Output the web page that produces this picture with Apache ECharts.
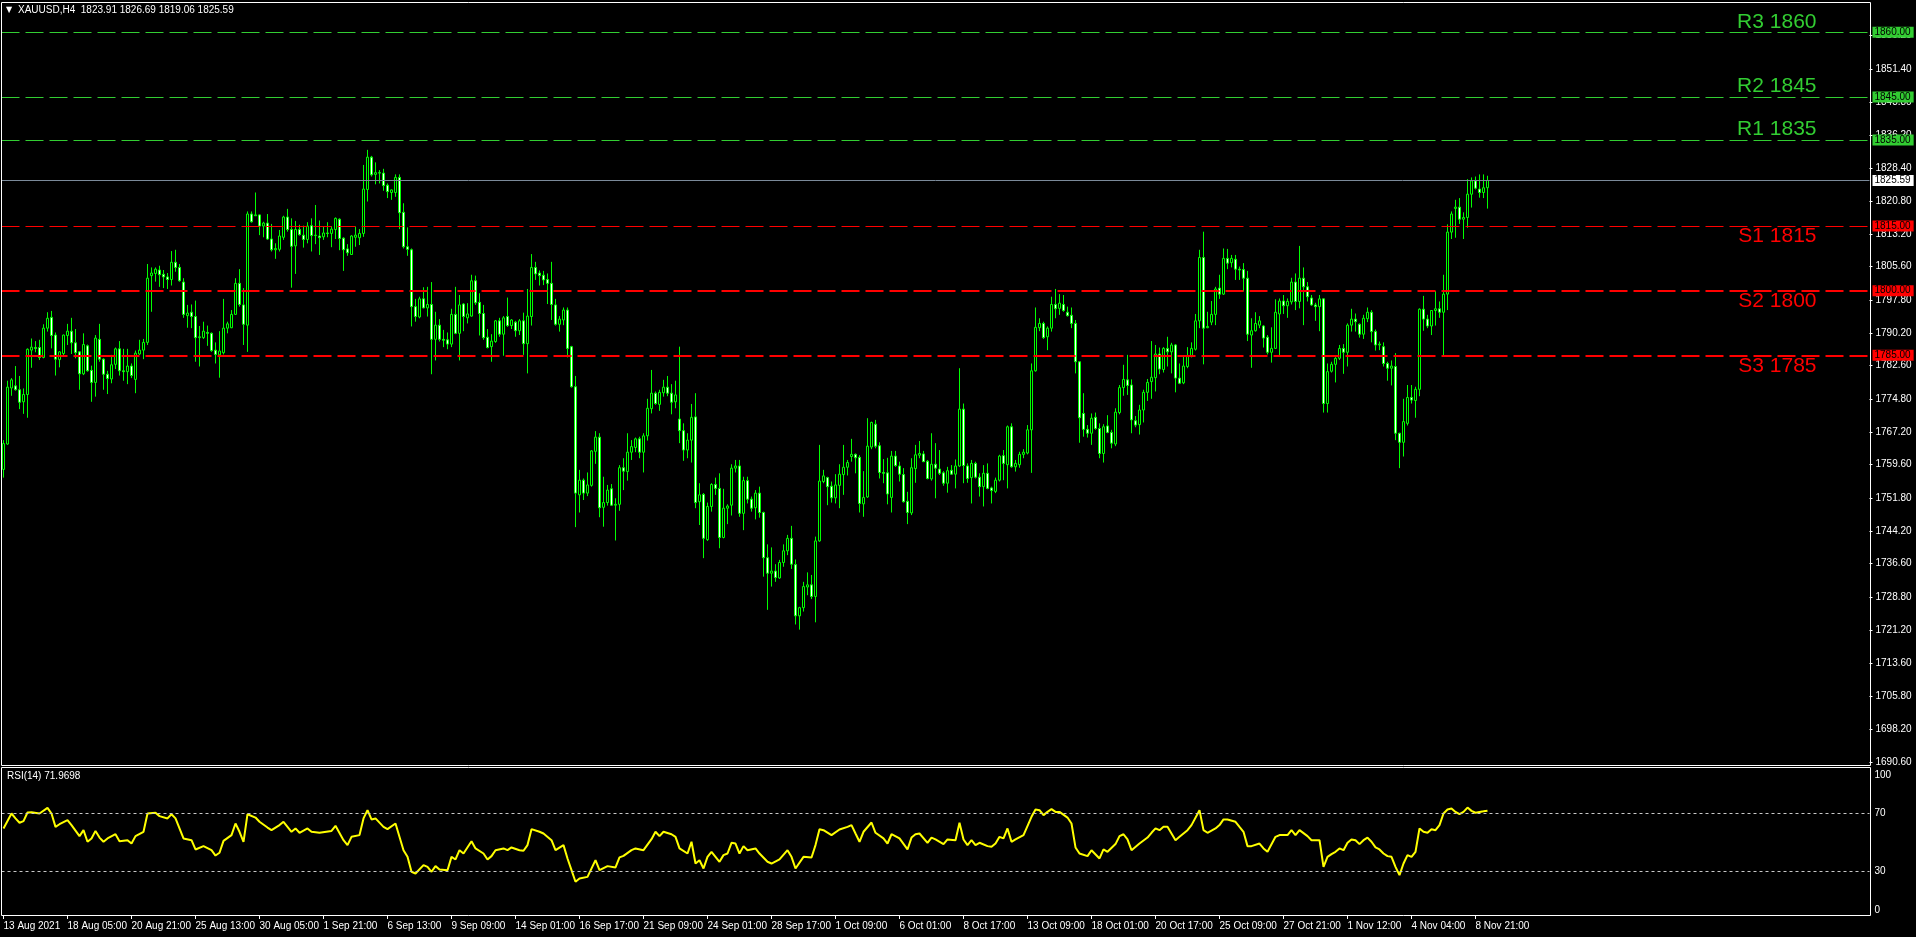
<!DOCTYPE html>
<html><head><meta charset="utf-8">
<script src="https://cdn.jsdelivr.net/npm/echarts@6/dist/echarts.min.js"></script>
<style>html,body{margin:0;padding:0;background:#000;overflow:hidden}#c{width:1916px;height:937px}</style>
</head><body><div id="c"></div>
<script>
// ---------------- DATA ----------------
const symbolName = 'XAUUSD,H4';
const opens = [
1758.5,1764.4,1777.4,1777.9,1777.0,1774.2,1775.9,1786.2,1786.8,1786.8,
1784.5,1791.3,1793.8,1789.7,1784.0,1785.4,1789.6,1790.6,1787.9,1785.8,
1780.7,1787.2,1781.5,1778.7,1788.7,1784.1,1780.6,1779.5,1782.9,1786.5,
1781.4,1781.2,1782.5,1779.4,1785.3,1786.2,1788.0,1803.5,1804.0,1804.8,
1803.8,1803.2,1802.6,1806.6,1805.4,1802.0,1794.2,1795.0,1794.0,1789.1,
1789.1,1790.3,1790.1,1786.2,1785.1,1785.6,1791.3,1791.4,1794.5,1801.7,
1796.7,1792.0,1817.8,1817.4,1817.6,1815.0,1815.7,1812.0,1809.5,1809.6,
1812.4,1817.1,1814.2,1810.4,1814.2,1812.9,1811.9,1815.1,1812.8,1812.7,
1812.5,1813.4,1813.3,1814.2,1816.6,1812.2,1809.7,1808.4,1812.4,1812.3,
1813.3,1823.5,1831.0,1827.0,1827.4,1827.3,1824.5,1822.8,1822.8,1826.3,
1818.2,1810.2,1809.5,1796.3,1793.9,1798.1,1796.0,1796.8,1788.7,1792.0,
1788.7,1788.6,1787.6,1794.5,1790.1,1796.9,1793.7,1794.1,1802.3,1797.3,
1794.7,1789.2,1787.0,1788.2,1793.0,1789.9,1794.0,1791.9,1792.7,1790.7,
1793.0,1787.7,1794.0,1805.4,1804.1,1803.6,1802.6,1801.7,1796.7,1792.2,
1793.2,1795.5,1787.0,1777.7,1752.6,1756.0,1753.0,1754.8,1762.7,1766.0,
1749.7,1750.8,1754.0,1750.2,1750.4,1758.9,1758.0,1762.5,1763.6,1765.6,
1762.5,1766.3,1772.6,1776.2,1773.6,1776.3,1777.6,1776.2,1774.2,1770.2,
1767.5,1763.0,1765.3,1770.7,1751.0,1752.7,1742.2,1749.9,1755.0,1754.1,
1742.7,1749.5,1750.2,1758.8,1759.3,1748.3,1755.9,1751.6,1749.6,1753.0,
1748.5,1738.0,1734.4,1734.9,1733.3,1736.9,1739.6,1742.5,1736.4,1724.5,
1726.4,1731.2,1731.7,1729.0,1741.9,1755.7,1756.6,1754.6,1751.9,1754.8,
1757.3,1759.0,1761.5,1762.0,1761.3,1750.5,1752.1,1763.7,1769.0,1764.0,
1757.8,1757.7,1752.0,1761.6,1759.3,1757.3,1751.1,1748.4,1758.7,1761.8,
1762.1,1760.4,1756.3,1759.7,1758.6,1757.7,1755.3,1758.3,1757.4,1759.3,
1772.5,1759.3,1756.6,1759.9,1756.7,1754.5,1757.6,1754.2,1753.4,1756.0,
1761.7,1759.6,1768.4,1759.1,1759.6,1762.0,1762.3,1767.7,1781.4,1791.4,
1792.4,1789.3,1791.3,1796.8,1795.9,1796.8,1795.0,1794.3,1792.4,1783.5,
1771.5,1767.8,1766.9,1770.6,1768.0,1762.2,1768.6,1767.1,1764.4,1771.7,
1777.5,1779.3,1778.1,1769.8,1768.9,1772.3,1776.4,1778.9,1779.8,1785.3,
1781.7,1786.6,1785.8,1787.4,1779.7,1778.6,1782.4,1784.8,1786.4,1793.0,
1807.7,1791.4,1792.7,1794.5,1800.6,1799.2,1807.5,1806.5,1807.3,1805.0,
1804.9,1802.9,1789.7,1790.7,1792.0,1791.8,1789.2,1785.7,1786.6,1794.6,
1797.6,1796.5,1797.4,1802.0,1797.5,1802.9,1800.9,1798.3,1796.7,1796.3,
1798.1,1773.8,1781.3,1782.9,1784.3,1786.6,1785.7,1792.0,1793.4,1792.2,
1789.9,1793.5,1795.0,1790.5,1787.4,1787.0,1783.1,1782.0,1782.4,1766.9,
1764.8,1769.2,1775.2,1774.5,1777.1,1795.7,1793.4,1791.8,1795.4,1795.8,
1795.0,1799.2,1813.6,1819.1,1819.4,1816.6,1817.0,1822.4,1825.5,1823.6,
1822.8,1823.91];
const highs = [
1765.3,1779.1,1779.7,1782.5,1780.2,1777.3,1786.6,1788.9,1788.3,1788.6,
1792.2,1795.0,1795.3,1790.3,1786.0,1789.8,1792.3,1793.7,1791.1,1786.0,
1790.1,1787.5,1782.6,1789.7,1792.3,1784.3,1781.4,1785.1,1786.8,1788.3,
1786.5,1786.5,1783.1,1786.1,1788.6,1788.8,1806.2,1805.4,1805.4,1805.8,
1804.8,1804.1,1809.2,1809.5,1806.2,1802.9,1796.7,1796.8,1797.7,1791.8,
1792.8,1791.9,1790.3,1788.0,1790.6,1798.1,1792.8,1795.5,1802.9,1805.0,
1800.6,1818.4,1818.4,1822.8,1817.7,1816.0,1817.8,1815.5,1811.0,1814.1,
1817.4,1819.0,1816.8,1816.2,1815.3,1815.1,1815.9,1816.8,1819.9,1816.3,
1815.0,1815.9,1815.0,1817.0,1816.8,1812.4,1810.8,1812.9,1814.9,1814.3,
1829.2,1832.7,1831.3,1829.8,1828.0,1828.3,1824.9,1823.5,1827.0,1827.0,
1820.3,1814.7,1809.8,1798.1,1798.6,1800.8,1800.9,1802.0,1795.1,1793.4,
1790.9,1790.3,1795.8,1800.9,1799.0,1797.1,1797.1,1803.7,1803.5,1799.4,
1796.7,1791.1,1789.9,1793.2,1793.7,1794.1,1798.4,1793.4,1793.0,1793.4,
1794.9,1800.4,1808.5,1806.7,1804.7,1804.6,1804.0,1806.7,1798.1,1794.1,
1796.1,1796.1,1787.2,1780.2,1758.4,1756.4,1757.8,1763.0,1767.4,1766.9,
1756.8,1754.9,1755.1,1751.8,1759.5,1761.1,1766.9,1765.3,1765.9,1766.1,
1766.9,1774.9,1781.6,1776.6,1777.0,1779.3,1780.2,1778.3,1779.1,1787.0,
1769.2,1766.9,1773.7,1776.2,1755.3,1753.0,1750.8,1755.3,1756.6,1757.6,
1754.0,1750.4,1759.7,1760.7,1760.7,1756.8,1756.8,1752.2,1753.7,1754.5,
1748.7,1741.1,1740.4,1736.5,1737.5,1741.1,1743.3,1745.4,1737.6,1726.6,
1732.4,1734.6,1734.0,1742.9,1764.2,1758.4,1756.8,1755.7,1757.4,1759.7,
1764.2,1760.7,1765.6,1762.2,1761.8,1758.1,1770.4,1769.6,1770.0,1764.8,
1760.9,1761.2,1762.8,1762.8,1760.3,1758.8,1753.3,1761.1,1764.2,1765.1,
1762.8,1760.7,1766.9,1764.6,1763.0,1758.1,1759.1,1759.5,1760.8,1782.0,
1773.8,1759.9,1760.7,1760.3,1757.6,1759.5,1759.9,1754.5,1756.6,1761.9,
1763.0,1768.7,1769.2,1760.7,1762.6,1763.2,1768.8,1783.1,1796.1,1793.6,
1792.8,1791.7,1798.6,1800.4,1799.2,1799.0,1796.3,1796.1,1793.2,1783.5,
1776.2,1768.8,1771.5,1771.7,1769.2,1769.0,1771.1,1767.7,1772.7,1778.1,
1782.8,1785.1,1779.4,1770.9,1773.5,1777.0,1779.5,1788.3,1787.4,1786.8,
1786.9,1789.3,1787.9,1787.6,1783.1,1784.7,1786.9,1788.0,1794.6,1809.5,
1813.7,1795.1,1797.6,1800.9,1803.7,1809.8,1809.7,1808.3,1808.3,1805.6,
1806.4,1804.6,1793.6,1795.0,1794.1,1792.0,1789.7,1791.5,1798.0,1798.2,
1799.0,1798.2,1803.0,1804.0,1810.4,1805.4,1802.0,1799.0,1797.2,1799.0,
1798.2,1783.1,1783.5,1784.7,1787.4,1787.6,1792.4,1795.8,1794.7,1792.4,
1794.4,1796.1,1795.5,1791.0,1788.2,1788.0,1783.5,1783.8,1785.5,1767.0,
1774.9,1778.1,1778.1,1777.7,1795.9,1798.8,1794.4,1795.5,1799.9,1797.5,
1803.7,1815.4,1818.4,1821.1,1821.5,1818.2,1825.9,1826.3,1826.5,1827.0,
1827.0,1826.69];
const lows = [
1756.6,1764.2,1775.6,1776.8,1772.5,1771.4,1770.5,1782.1,1785.7,1783.9,
1784.3,1790.5,1786.6,1780.3,1782.2,1784.7,1787.4,1785.3,1784.3,1777.0,
1780.4,1781.2,1774.2,1775.4,1783.5,1777.0,1776.0,1778.5,1781.8,1780.3,
1779.1,1778.3,1779.7,1776.2,1785.1,1784.1,1787.4,1795.1,1802.1,1800.9,
1800.6,1800.4,1801.2,1804.4,1802.1,1793.7,1791.4,1791.3,1783.5,1782.4,
1788.8,1787.2,1785.8,1783.1,1779.8,1785.2,1790.1,1791.3,1794.4,1796.3,
1787.4,1785.8,1815.8,1817.4,1812.9,1812.4,1811.8,1809.1,1807.4,1809.1,
1811.8,1813.7,1800.7,1803.9,1812.8,1810.0,1811.0,1809.1,1810.8,1808.3,
1811.8,1812.4,1810.1,1812.0,1809.4,1804.6,1808.1,1808.3,1810.2,1810.6,
1812.5,1820.7,1826.5,1824.7,1824.9,1823.2,1821.5,1821.1,1821.8,1814.3,
1809.8,1808.1,1791.7,1792.8,1793.6,1795.9,1794.0,1780.6,1783.8,1788.2,
1786.9,1786.4,1786.9,1789.9,1783.8,1790.6,1792.4,1794.0,1796.7,1789.6,
1788.6,1786.6,1783.5,1787.9,1789.3,1784.9,1791.6,1791.1,1789.3,1789.7,
1785.1,1780.8,1791.9,1802.5,1801.2,1801.3,1796.9,1793.2,1791.9,1790.5,
1792.0,1784.5,1777.5,1745.1,1748.5,1751.4,1752.3,1754.5,1759.8,1747.4,
1745.2,1750.1,1750.0,1742.0,1748.9,1753.7,1755.9,1760.7,1762.5,1761.1,
1757.8,1765.2,1771.5,1773.5,1772.1,1775.4,1775.5,1771.3,1772.7,1764.6,
1760.5,1761.1,1760.1,1749.5,1745.6,1737.9,1741.9,1748.7,1752.6,1740.2,
1742.5,1745.8,1747.8,1757.8,1747.5,1744.4,1750.6,1748.7,1746.9,1747.3,
1733.6,1725.9,1731.3,1732.4,1733.1,1735.9,1738.6,1735.4,1722.5,1721.3,
1725.5,1729.3,1728.4,1723.0,1741.7,1755.3,1750.2,1750.8,1750.6,1749.5,
1752.6,1757.1,1760.3,1757.6,1748.5,1747.5,1751.9,1763.2,1763.4,1756.4,
1755.3,1750.4,1748.5,1759.1,1755.7,1750.8,1745.8,1747.9,1755.4,1761.1,
1760.2,1756.2,1755.9,1751.8,1757.2,1754.7,1753.1,1757.2,1754.1,1759.1,
1755.3,1755.4,1750.6,1756.4,1752.2,1749.9,1753.9,1750.6,1753.0,1755.7,
1756.0,1754.1,1758.9,1758.0,1758.9,1761.1,1762.0,1757.7,1781.2,1790.6,
1788.8,1786.2,1790.5,1793.6,1794.4,1795.1,1794.0,1791.3,1780.8,1764.7,
1766.1,1765.9,1764.2,1767.7,1761.1,1760.1,1766.9,1763.4,1763.9,1771.3,
1775.6,1775.8,1766.9,1768.3,1766.6,1769.4,1774.4,1774.9,1776.6,1780.6,
1781.0,1782.4,1780.8,1776.4,1778.3,1778.3,1782.0,1784.5,1786.1,1791.3,
1782.9,1791.3,1792.0,1792.0,1798.1,1799.0,1805.0,1805.4,1802.5,1802.5,
1799.8,1788.3,1782.1,1790.5,1791.3,1786.8,1785.2,1783.3,1786.5,1784.7,
1794.6,1793.7,1796.8,1795.5,1795.9,1792.0,1797.5,1796.5,1793.0,1790.6,
1771.7,1771.7,1781.0,1778.7,1783.9,1780.7,1782.4,1790.5,1790.5,1789.1,
1788.8,1792.7,1788.0,1786.1,1786.2,1782.4,1779.1,1778.0,1765.3,1758.8,
1761.5,1768.7,1773.8,1770.5,1775.5,1790.7,1791.3,1789.7,1791.9,1793.7,
1784.7,1795.5,1812.0,1812.3,1815.5,1812.0,1814.6,1819.3,1823.5,1821.6,
1821.5,1819.06];
const closes = [
1764.5,1777.6,1779.3,1777.0,1774.1,1775.9,1786.4,1786.9,1786.6,1784.5,
1791.3,1793.6,1789.6,1784.1,1785.8,1789.7,1790.6,1787.9,1785.6,1780.7,
1787.5,1781.4,1778.7,1789.0,1784.1,1780.6,1779.6,1782.8,1786.5,1781.4,
1781.2,1782.5,1780.3,1785.5,1786.2,1788.0,1802.9,1804.1,1805.0,1803.7,
1803.2,1802.6,1806.6,1805.4,1802.3,1794.5,1794.8,1794.0,1789.1,1789.3,
1790.6,1790.1,1786.1,1785.2,1786.0,1791.3,1792.3,1794.5,1801.7,1796.8,
1792.2,1817.8,1816.0,1817.6,1815.0,1815.7,1812.0,1809.5,1809.8,1812.7,
1817.1,1814.2,1810.3,1814.2,1813.0,1811.9,1815.0,1812.8,1812.9,1812.3,
1813.4,1813.3,1814.3,1816.8,1812.1,1809.5,1808.8,1812.7,1812.9,1813.3,
1823.6,1831.0,1826.9,1827.4,1827.3,1824.4,1823.0,1823.4,1826.3,1818.1,
1810.2,1809.6,1796.3,1794.0,1798.1,1796.0,1796.8,1788.7,1792.0,1788.7,
1788.5,1787.6,1794.5,1790.1,1796.7,1794.0,1794.6,1802.3,1797.2,1794.7,
1789.1,1786.8,1788.3,1793.0,1789.9,1793.7,1791.9,1793.2,1790.7,1793.0,
1787.7,1794.1,1805.4,1803.9,1803.5,1802.5,1801.7,1796.8,1792.2,1793.4,
1795.5,1786.6,1777.7,1753.0,1756.0,1753.0,1754.9,1762.8,1766.0,1749.6,
1750.8,1753.7,1750.2,1750.4,1758.9,1758.1,1762.5,1763.8,1765.6,1762.5,
1766.3,1772.7,1776.2,1773.8,1776.4,1777.6,1776.2,1774.1,1775.8,1767.5,
1763.0,1765.3,1770.6,1750.8,1752.6,1742.5,1749.9,1755.0,1754.1,1742.7,
1749.5,1750.0,1758.8,1759.3,1748.3,1755.9,1751.6,1749.5,1753.0,1748.5,
1738.0,1734.4,1734.9,1733.4,1736.9,1739.6,1742.5,1736.5,1724.5,1726.4,
1731.3,1731.7,1729.0,1741.9,1755.8,1757.0,1754.5,1751.9,1754.9,1757.4,
1759.0,1760.1,1762.0,1761.2,1750.6,1752.0,1763.9,1769.4,1763.9,1757.8,
1757.6,1752.8,1761.6,1759.4,1757.4,1751.0,1748.5,1758.9,1761.9,1762.2,
1760.3,1756.4,1759.7,1758.8,1757.6,1755.3,1758.2,1757.4,1759.3,1772.5,
1759.4,1756.4,1759.9,1756.7,1754.5,1757.6,1754.1,1753.6,1756.0,1761.6,
1759.9,1768.4,1759.1,1759.9,1762.0,1762.5,1767.7,1781.4,1791.5,1792.4,
1789.1,1791.3,1796.8,1795.8,1797.1,1795.4,1794.2,1792.4,1783.5,1770.5,
1767.8,1766.9,1770.4,1768.0,1762.2,1768.4,1767.1,1764.6,1771.8,1777.5,
1779.4,1778.0,1770.0,1768.8,1772.3,1776.4,1778.7,1779.9,1785.3,1781.8,
1786.6,1785.8,1787.4,1779.7,1778.5,1782.5,1784.8,1786.6,1793.0,1807.7,
1791.3,1791.7,1794.5,1800.4,1799.2,1807.5,1806.4,1807.5,1805.0,1804.8,
1802.9,1789.9,1790.7,1792.4,1793.0,1789.0,1785.7,1786.6,1795.0,1797.6,
1796.5,1797.5,1802.0,1797.5,1802.9,1800.9,1798.6,1796.7,1796.3,1798.1,
1773.8,1781.2,1782.9,1784.3,1786.6,1785.7,1792.0,1793.4,1792.8,1789.9,
1793.6,1795.0,1790.5,1787.4,1787.6,1783.1,1782.0,1782.5,1766.9,1764.8,
1769.6,1775.2,1774.6,1777.1,1795.7,1793.4,1791.8,1795.4,1795.8,1795.0,
1799.2,1813.6,1817.8,1819.4,1816.6,1817.0,1822.4,1825.5,1823.8,1822.8,
1823.9,1825.59];

// RSI(14) vertices: bar index -> value
const rsiBars = [0,2,3,4,5,6,7,9,11,12,13,14,16,17,19,20,21,22,23,24,25,26,28,29,31,32,33,35,36,38,39,41,42,43,45,47,48,50,52,53,54,55,57,58,59,60,61,63,64,66,67,69,70,72,73,74,76,77,79,82,83,85,86,87,89,90,91,92,93,95,96,98,100,101,102,103,105,106,107,108,109,111,112,113,114,115,117,118,120,121,122,123,125,126,127,129,130,131,132,134,135,137,138,140,141,142,143,144,146,148,149,151,153,154,155,157,158,160,162,163,164,165,167,168,169,171,172,173,174,175,176,177,179,180,181,182,183,184,185,186,188,189,191,192,194,196,197,198,200,202,203,204,205,207,209,211,212,213,214,215,217,218,220,221,222,224,226,227,228,229,231,232,233,235,236,238,239,240,241,242,243,244,246,247,248,249,250,251,252,253,255,257,258,259,260,261,262,263,264,266,267,268,269,271,272,274,275,276,278,279,280,281,282,284,286,287,288,289,290,291,293,294,296,297,299,300,301,303,304,305,306,308,309,310,311,312,314,315,316,318,319,321,322,323,324,326,327,329,330,331,332,333,334,335,336,337,338,339,340,341,342,343,344,345,346,347,348,349,350,351,352,353,354,355,356,357,358,359,360,361,362,363,364,365,366,367,368,369,370,371];
const rsiValues = [59.7,70.0,66.6,63.6,64.7,70.7,70.9,70.0,73.9,70.0,60.8,62.6,65.4,62.0,54.4,58.5,50.5,52.8,58.0,53.4,50.5,52.8,55.7,50.9,51.6,49.3,54.4,57.4,70.0,70.5,68.2,66.6,69.5,66.6,52.8,51.6,45.2,47.5,44.7,41.0,42.9,51.1,55.1,63.1,57.4,50.5,69.5,67.2,64.3,60.3,58.5,62.0,64.3,57.4,59.7,56.7,59.7,57.4,56.7,58.0,61.5,51.6,48.2,53.9,55.1,66.6,72.3,65.9,66.6,60.8,59.2,63.1,44.7,40.1,29.8,28.6,34.4,33.2,29.8,33.7,31.4,30.9,40.1,38.3,44.7,42.4,50.9,45.9,42.4,38.3,40.6,44.7,45.9,44.7,46.6,44.7,44.3,48.2,59.2,57.4,56.2,51.6,44.7,48.2,39.0,30.9,22.9,25.2,26.3,37.8,30.9,33.7,32.8,39.7,40.8,44.7,45.9,44.7,52.3,57.4,54.4,57.4,55.7,53.9,45.9,42.4,50.5,35.5,37.8,32.1,40.1,43.6,36.7,41.3,42.4,49.8,49.3,42.4,47.5,44.7,45.9,42.4,36.7,35.5,38.3,44.7,40.1,32.1,40.1,39.7,48.2,59.2,58.5,55.1,59.0,60.8,62.0,56.2,50.5,57.4,63.8,56.7,52.8,49.3,55.7,52.8,45.2,53.4,55.7,56.2,49.8,53.4,52.1,48.9,52.1,51.6,63.6,52.1,48.2,51.6,48.2,49.8,47.5,47.0,49.3,53.9,52.8,59.7,50.5,52.1,55.1,67.7,72.8,72.3,68.9,71.1,73.0,71.1,71.1,67.2,63.1,46.6,42.4,40.6,44.7,39.0,45.2,43.6,48.9,54.4,55.7,52.1,44.7,49.3,53.4,56.7,59.7,58.5,60.8,60.8,51.6,53.9,58.5,62.0,72.3,58.5,56.7,59.7,62.0,65.9,65.9,64.3,60.8,57.4,47.5,47.5,49.3,45.9,43.6,53.9,55.1,55.1,58.5,55.1,58.5,54.4,51.6,51.6,33.2,40.1,42.0,43.6,45.9,44.7,49.8,52.1,51.6,48.9,51.6,53.4,50.5,46.6,45.2,42.4,40.6,40.1,33.2,27.5,35.5,41.3,40.1,43.6,59.7,57.4,56.7,59.2,58.5,62.0,70.0,72.8,73.4,71.1,69.5,71.1,74.1,71.8,70.5,71.1,71.5,71.9698];

const priceTicks = [1859.20,1851.40,1843.80,1836.20,1828.40,1820.80,1813.20,1805.60,1797.80,1790.20,1782.60,1774.80,1767.20,1759.60,1751.80,1744.20,1736.60,1728.80,1721.20,1713.60,1705.80,1698.20,1690.60];
const timeLabels = ['13 Aug 2021','18 Aug 05:00','20 Aug 21:00','25 Aug 13:00','30 Aug 05:00','1 Sep 21:00','6 Sep 13:00','9 Sep 09:00','14 Sep 01:00','16 Sep 17:00','21 Sep 09:00','24 Sep 01:00','28 Sep 17:00','1 Oct 09:00','6 Oct 01:00','8 Oct 17:00','13 Oct 09:00','18 Oct 01:00','20 Oct 17:00','25 Oct 09:00','27 Oct 21:00','1 Nov 12:00','4 Nov 04:00','8 Nov 21:00'];
const levelNames = ['R3','R2','R1','S1','S2','S3'];
const levelValues = [1860,1845,1835,1815,1800,1785];
const rsiLevels = [70,30];
const rsiTicks = [0,30,70,100];

// ---------------- LAYOUT / STYLE ----------------
const SLOTS = 467, LABEL_STEP = 16;
const PRICE_MIN = 1689.64, PRICE_MAX = 1867.03;
const FONT = 'Liberation Sans, Arial, sans-serif';
const GREEN = '#32cd32', RED = '#ff0000', LIME = '#00ff00';
const last = closes.length - 1;

const cats = Array.from({length: SLOTS}, (_, i) => String(i));
const candleData = opens.map((o, i) => [o, closes[i], lows[i], highs[i]]);
const rsiData = rsiBars.map((b, i) => [b, rsiValues[i]]);
const showIdx = (idx) => idx % LABEL_STEP === 0 && idx / LABEL_STEP < timeLabels.length;
const HIDDEN = {color: 'rgba(0,0,0,0)', width: 0, type: 'solid'};

const levelItems = [];
levelNames.forEach((name, i) => {
  const v = levelValues[i];
  const isR = name[0] === 'R';
  const col = isR ? GREEN : RED;
  const w = (name === 'S2' || name === 'S3') ? 2 : 1;
  levelItems.push({
    yAxis: v,
    lineStyle: {color: col, width: w, type: [18, 6]},
    label: {show: true, position: isR ? 'insideEndTop' : 'insideEndBottom',
      formatter: name + ' ' + v, color: col, fontSize: 21, fontFamily: FONT, distance: [53, 0]}
  });
  levelItems.push({
    yAxis: v,
    lineStyle: HIDDEN,
    label: {show: true, position: 'end', formatter: v.toFixed(2), color: '#000000',
      backgroundColor: col, fontSize: 10, lineHeight: 11, fontFamily: FONT, padding: [0, 3, 0, 2], distance: 3}
  });
});
levelItems.push({
  yAxis: closes[last],
  lineStyle: {color: '#7b8a9a', width: 1, type: 'solid'},
  label: {show: true, position: 'end', formatter: closes[last].toFixed(2), color: '#000000',
    backgroundColor: '#ffffff', fontSize: 10, lineHeight: 11, fontFamily: FONT, padding: [0, 3, 0, 2], distance: 3}
});

const chart = echarts.init(document.getElementById('c'), null, {renderer: 'canvas', width: 1916, height: 937});
chart.setOption({
  backgroundColor: '#000000',
  animation: false,
  grid: [
    {left: 1.5, top: 2, width: SLOTS * 4, height: 764, containLabel: false},
    {left: 1.5, top: 770, width: SLOTS * 4, height: 145, containLabel: false}
  ],
  xAxis: [
    {type: 'category', gridIndex: 0, data: cats, boundaryGap: true,
      axisLine: {show: false}, axisTick: {show: false}, axisLabel: {show: false}, splitLine: {show: false}},
    {type: 'category', gridIndex: 1, data: cats, boundaryGap: true,
      axisLine: {show: false},
      axisTick: {show: true, interval: showIdx, alignWithLabel: true, length: 4, lineStyle: {color: '#ffffff'}},
      axisLabel: {show: true, interval: showIdx, formatter: (v, idx) => timeLabels[idx / LABEL_STEP] || '',
        align: 'left', color: '#ffffff', fontSize: 10, fontFamily: FONT, margin: 6},
      splitLine: {show: false}}
  ],
  yAxis: [
    {type: 'value', gridIndex: 0, position: 'right', min: PRICE_MIN, max: PRICE_MAX, scale: true,
      splitLine: {show: false}, axisLine: {show: false},
      axisTick: {show: true, customValues: priceTicks, length: 3, lineStyle: {color: '#ffffff'}},
      axisLabel: {show: true, customValues: priceTicks, formatter: v => Number(v).toFixed(2),
        color: '#ffffff', fontSize: 10, fontFamily: FONT, margin: 6}},
    {type: 'value', gridIndex: 1, position: 'right', min: 0, max: 100,
      splitLine: {show: false}, axisLine: {show: false},
      axisTick: {show: false, customValues: rsiTicks},
      axisLabel: {show: true, customValues: rsiTicks, color: '#ffffff', fontSize: 10, fontFamily: FONT, margin: 5,
        verticalAlignMaxLabel: 'top', verticalAlignMinLabel: 'bottom'}}
  ],
  series: [
    {type: 'candlestick', xAxisIndex: 0, yAxisIndex: 0, data: candleData, barWidth: 2,
      itemStyle: {color: '#000000', color0: '#ffffff', borderColor: LIME, borderColor0: LIME, borderWidth: 1},
      emphasis: {disabled: true},
      markLine: {symbol: ['none', 'none'], silent: true, animation: false, data: levelItems}},
    {type: 'line', xAxisIndex: 1, yAxisIndex: 1, data: rsiData, showSymbol: false, symbol: 'none',
      lineStyle: {color: '#ffff00', width: 2}, emphasis: {disabled: true}, z: 3,
      markLine: {symbol: ['none', 'none'], silent: true, animation: false,
        data: rsiLevels.map(v => ({yAxis: v, lineStyle: {color: '#c8c8c8', type: [3, 3], width: 1}, label: {show: false}}))}}
  ],
  graphic: [
    {type: 'rect', silent: true, z: 100, shape: {x: 1.5, y: 2.5, width: 1869, height: 763}, style: {fill: 'none', stroke: '#ffffff', lineWidth: 1}},
    {type: 'rect', silent: true, z: 100, shape: {x: 1.5, y: 767.5, width: 1869, height: 148}, style: {fill: 'none', stroke: '#ffffff', lineWidth: 1}},
    {type: 'text', silent: true, z: 100, x: 6, y: 6, style: {text: '▼', fill: '#ffffff', font: '8px DejaVu Sans'}},
    {type: 'text', silent: true, z: 100, x: 18, y: 5, style: {text: symbolName + '  ' + [opens[last], highs[last], lows[last], closes[last]].map(v => v.toFixed(2)).join(' '), fill: '#ffffff', font: '10px ' + FONT}},
    {type: 'text', silent: true, z: 100, x: 7, y: 771, style: {text: 'RSI(14) ' + rsiValues[rsiValues.length - 1].toFixed(4), fill: '#ffffff', font: '10px ' + FONT}}
  ]
});
</script></body></html>
